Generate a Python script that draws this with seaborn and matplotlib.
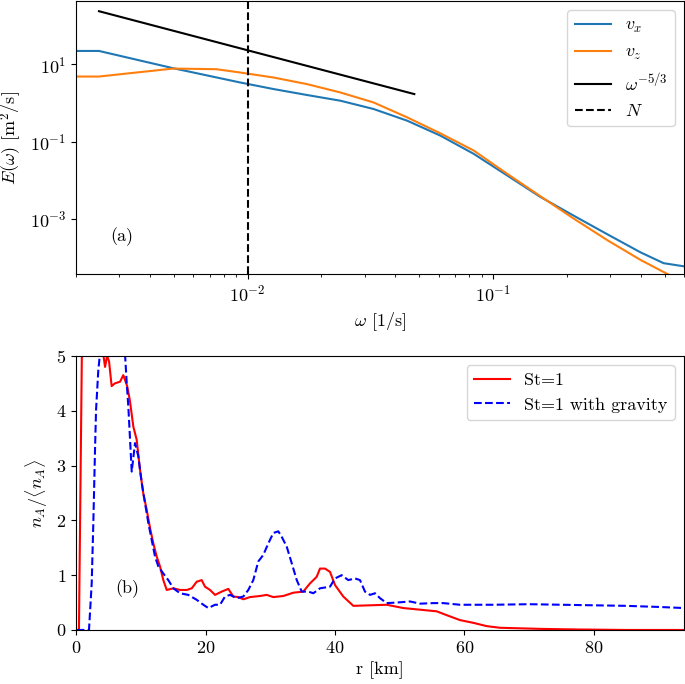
import numpy as np
import matplotlib
matplotlib.use("Agg")
import matplotlib.pyplot as plt
from matplotlib.ticker import NullLocator
import seaborn as sns

plt.rcParams['font.family'] = 'serif'
plt.rcParams['font.serif'] = ['cmr10']
plt.rcParams['mathtext.fontset'] = 'cm'
plt.rcParams['axes.formatter.use_mathtext'] = True
plt.rcParams['font.size'] = 13

# ---------------- (a) energy spectra ----------------
omega_vx = [0.002, 0.00248, 0.00497, 0.00933, 0.01276, 0.01746, 0.02388, 0.03258,
            0.04467, 0.06095, 0.08337, 0.1140, 0.1560, 0.2128, 0.2917, 0.399,
            0.4955, 0.6]
E_vx = [22.0, 22.0, 7.89, 3.37, 2.28, 1.60, 1.14, 0.697,
        0.348, 0.1435, 0.0485, 0.01346, 0.00372, 1.23e-3, 4.07e-4, 1.38e-4,
        7.24e-5, 6.0e-5]

omega_vz = [0.002, 0.00248, 0.00497, 0.00745, 0.00933, 0.01276, 0.01746, 0.02388,
            0.03258, 0.04467, 0.06095, 0.08337, 0.1140, 0.1560, 0.2128, 0.2917,
            0.399, 0.506, 0.6]
E_vz = [4.80, 4.80, 7.71, 7.43, 6.1, 4.53, 3.06, 1.86,
        1.03, 0.424, 0.164, 0.0590, 0.01486, 0.00388, 1.035e-3, 2.87e-4,
        8.79e-5, 4.0e-5, 2.3e-5]

omega_ref = [0.00248, 0.0478]
E_ref = [234.0, 1.69]

N_freq = 0.01

# ---------------- (b) concentration profiles ----------------
r_st1 = [0.45, 0.95, 2.0, 3.0, 4.0, 4.22, 4.48, 4.8, 5.1, 5.5, 6.0, 6.8, 7.3, 7.6, 7.9,
         8.3, 8.85, 9.37, 9.88, 10.39, 10.92, 11.43, 11.94, 12.46, 12.97, 13.48, 14.01,
         15.03, 16.06, 17.10, 17.87, 18.64, 19.41, 19.92, 20.70, 21.47, 22.50, 23.52,
         24.29, 25.07, 25.84, 26.87, 28.42, 29.45, 30.47, 32.02, 33.56, 35.10, 36.14,
         37.17, 37.68, 38.46, 39.23, 40.0, 41.28, 42.83, 45.41, 47.98, 50.55, 53.13,
         55.71, 57.25, 59.31, 61.36, 63.43, 65.48, 71.66, 76.80, 85.0, 93.9]
n_st1 = [0.0, 5.6, 7.5, 7.0, 5.3, 5.02, 4.80, 5.0, 4.9, 4.45, 4.5, 4.53, 4.65, 4.55, 4.45,
         4.2, 3.71, 3.47, 2.92, 2.49, 2.19, 1.86, 1.58, 1.34, 1.16, 0.91, 0.73,
         0.76, 0.73, 0.73, 0.76, 0.88, 0.91, 0.79, 0.73, 0.64, 0.70, 0.75,
         0.61, 0.60, 0.56, 0.60, 0.62, 0.64, 0.60, 0.62, 0.68, 0.70, 0.85,
         0.97, 1.12, 1.12, 1.06, 0.82, 0.61, 0.44, 0.45, 0.46, 0.40, 0.37,
         0.34, 0.27, 0.18, 0.13, 0.07, 0.04, 0.02, 0.01, 0.0, 0.0]

r_grav = [0.1, 2.0, 2.42, 2.67, 2.93, 3.09, 3.44, 3.71, 5.0, 6.5, 7.57, 7.83, 8.08, 8.60,
          9.11, 9.62, 10.15, 10.66, 11.17, 11.69, 12.20, 12.71, 13.48, 14.25, 15.03,
          16.06, 17.34, 18.64, 19.66, 20.43, 21.47, 22.24, 23.01, 23.78, 24.82, 25.84,
          26.61, 27.38, 28.15, 28.93, 29.70, 30.47, 31.24, 31.77, 32.54, 33.31, 34.09,
          34.86, 35.88, 36.65, 37.68, 39.23, 40.0, 41.03, 42.05, 43.09, 43.86, 44.63,
          45.41, 46.18, 46.95, 47.98, 49.53, 51.58, 53.13, 55.18, 56.73, 59.31, 61.88,
          64.45, 70.0, 75.0, 80.0, 85.0, 90.0, 93.9]
n_grav = [0.0, 0.0, 0.85, 1.95, 3.28, 4.01, 4.74, 5.05, 7.0, 6.8, 5.03, 4.5, 4.07, 2.89,
          3.41, 3.17, 2.68, 2.31, 1.95, 1.64, 1.34, 1.16, 1.03, 0.91, 0.76,
          0.67, 0.64, 0.55, 0.46, 0.40, 0.46, 0.46, 0.61, 0.64, 0.58, 0.61,
          0.73, 0.91, 1.25, 1.37, 1.58, 1.77, 1.80, 1.70, 1.52, 1.22, 0.91,
          0.70, 0.70, 0.67, 0.76, 0.79, 0.94, 1.0, 0.91, 0.94, 0.91, 0.70,
          0.64, 0.67, 0.58, 0.49, 0.50, 0.52, 0.48, 0.49, 0.49, 0.46, 0.46,
          0.46, 0.47, 0.46, 0.45, 0.44, 0.42, 0.40]

fig = plt.figure(figsize=(6.85, 6.84), dpi=100)
ax1 = fig.add_axes([0.111, 0.5994, 0.8875, 0.3986])
ax2 = fig.add_axes([0.111, 0.079, 0.8875, 0.4006])

ax1.set_xscale('log')
ax1.set_yscale('log')
sns.lineplot(x=omega_vx, y=E_vx, ax=ax1, color='#1f77b4', lw=1.5, label='$v_x$', sort=False)
sns.lineplot(x=omega_vz, y=E_vz, ax=ax1, color='#ff7f0e', lw=1.5, label='$v_z$', sort=False)
sns.lineplot(x=omega_ref, y=E_ref, ax=ax1, color='k', lw=1.5, label=r'$\omega^{-5/3}$', sort=False)
ax1.axvline(N_freq, color='k', ls='--', lw=1.5, label='$N$')
ax1.set_xlim(0.002, 0.6)
ax1.set_ylim(3.8e-5, 420)
ax1.set_yticks([1e-3, 1e-1, 1e1])
ax1.yaxis.set_minor_locator(NullLocator())
ax1.set_xlabel(r'$\omega$ [1/s]')
ax1.set_ylabel(r'$E(\omega)$ [m$^2$/s]')
ax1.text(0.056, 0.136, '(a)', transform=ax1.transAxes, va='center')
ax1.legend(loc='upper right')

sns.lineplot(x=r_st1, y=n_st1, ax=ax2, color='red', lw=1.5, label='St=1', sort=False)
sns.lineplot(x=r_grav, y=n_grav, ax=ax2, color='blue', lw=1.5, linestyle='--',
             label='St=1 with gravity', sort=False)
ax2.set_xlim(0, 93.9)
ax2.set_ylim(0, 5)
ax2.set_xticks([0, 20, 40, 60, 80])
ax2.set_yticks([0, 1, 2, 3, 4, 5])
ax2.set_xlabel('r [km]')
ax2.set_ylabel(r'$n_A/\langle n_A\rangle$')
ax2.text(0.064, 0.152, '(b)', transform=ax2.transAxes, va='center')
ax2.legend(loc='upper right')

plt.savefig('out.png', dpi=100)
